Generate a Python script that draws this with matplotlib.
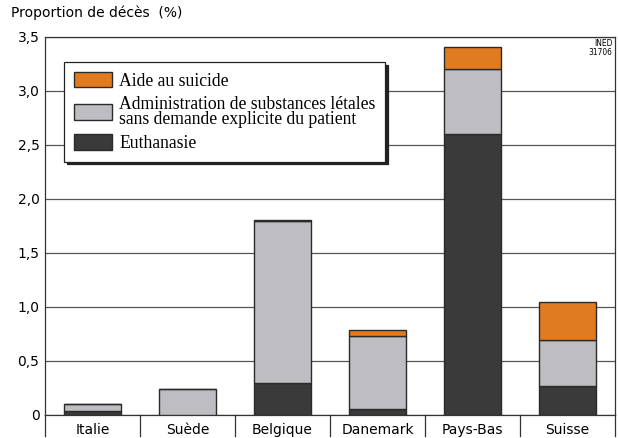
import matplotlib.pyplot as plt
import numpy as np
from matplotlib.patches import Patch

# données (proportion de décès, %)
pays = ['Italie', 'Suède', 'Belgique', 'Danemark', 'Pays-Bas', 'Suisse']
euthanasie = [0.04, 0.0, 0.30, 0.06, 2.60, 0.27]
administration = [0.06, 0.24, 1.50, 0.67, 0.60, 0.42]
aide_suicide = [0.0, 0.0, 0.01, 0.06, 0.21, 0.36]

yticks = [0, 0.5, 1.0, 1.5, 2.0, 2.5, 3.0, 3.5]
ytick_labels = ['0', '0,5', '1,0', '1,5', '2,0', '2,5', '3,0', '3,5']

c_orange = '#e07b20'
c_gris = '#bebec2'
c_fonce = '#3a3a3a'
c_bord = '#2a2a2a'

fig = plt.figure(figsize=(6.18, 4.38), dpi=100)
ax = fig.add_axes([45 / 618, 23 / 438, 570 / 618, 378 / 438])

x = np.arange(len(pays))
w = 0.6
eu = np.array(euthanasie)
ad = np.array(administration)
ai = np.array(aide_suicide)

ax.bar(x, eu, w, color=c_fonce, edgecolor=c_bord, lw=1, zorder=3)
ax.bar(x, ad, w, bottom=eu, color=c_gris, edgecolor=c_bord, lw=1, zorder=3)
ax.bar(x, ai, w, bottom=eu + ad, color=c_orange, edgecolor=c_bord, lw=1, zorder=3)

ax.set_xlim(-0.5, len(pays) - 0.5)
ax.set_ylim(0, 3.5)
ax.set_yticks(yticks)
ax.set_yticklabels(ytick_labels, fontsize=10)
ax.tick_params(axis='y', length=0, pad=4)
ax.yaxis.grid(True, color='#555555', lw=0.9)
ax.set_axisbelow(True)

ax.set_xticks(x)
ax.set_xticklabels(pays, fontsize=10)
ax.tick_params(axis='x', length=0, pad=6)

for s in ax.spines.values():
    s.set_color('#333333')
    s.set_linewidth(0.9)

# séparateurs sous l'axe
trans = ax.get_xaxis_transform()
for b in np.arange(-0.5, len(pays), 1.0):
    ax.plot([b, b], [0, -0.055], color='#333333', lw=0.9, transform=trans, clip_on=False)

ax.text(-0.06, 1.045, 'Proportion de décès  (%)', transform=ax.transAxes,
        fontsize=10, ha='left', va='bottom')
ax.text(0.995, 0.995, 'INED\n31706', transform=ax.transAxes, fontsize=6,
        ha='right', va='top', linespacing=0.95, fontstretch='condensed')

handles = [Patch(facecolor=c_orange, edgecolor=c_bord),
           Patch(facecolor=c_gris, edgecolor=c_bord),
           Patch(facecolor=c_fonce, edgecolor=c_bord)]
labels = ['Aide au suicide',
          'Administration de substances létales\nsans demande explicite du patient',
          'Euthanasie']
leg = ax.legend(handles, labels, loc='upper left', bbox_to_anchor=(0.033, 0.934),
                borderaxespad=0, fancybox=False, shadow={'color': '#222222', 'alpha': 1},
                frameon=True, edgecolor='#222222', framealpha=1,
                prop={'family': 'Liberation Serif', 'size': 12.7},
                handlelength=2.2, handleheight=1.0, handletextpad=0.4,
                labelspacing=0.35, borderpad=0.55)
leg.get_frame().set_linewidth(0.9)
leg.set_zorder(5)
for t in leg.get_texts():
    t.set_linespacing(0.85)

fig.savefig('out.png', dpi=100)
